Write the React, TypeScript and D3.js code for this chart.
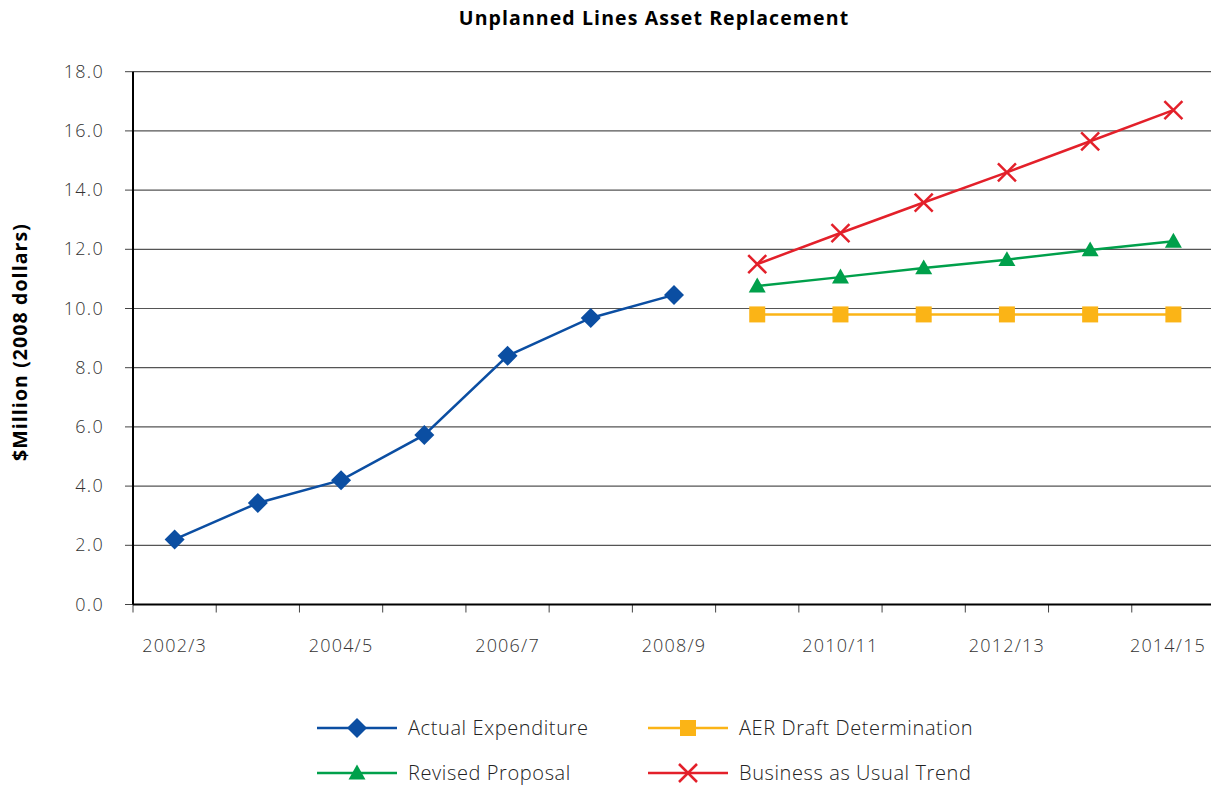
import React from "react";
import * as d3 from "d3";

const categories = ["2002/3","2003/4","2004/5","2005/6","2006/7","2007/8","2008/9","2009/10","2010/11","2011/12","2012/13","2013/14","2014/15"];
const actualExpenditure: (number|null)[] = [2.2, 3.43, 4.2, 5.73, 8.4, 9.68, 10.46, null, null, null, null, null, null];
const aerDraft: (number|null)[] = [null, null, null, null, null, null, null, 9.8, 9.8, 9.8, 9.8, 9.8, 9.8];
const revisedProposal: (number|null)[] = [null, null, null, null, null, null, null, 10.76, 11.06, 11.37, 11.65, 11.98, 12.27];
const businessAsUsual: (number|null)[] = [null, null, null, null, null, null, null, 11.5, 12.55, 13.58, 14.6, 15.65, 16.7];
const yTicks = [0, 2, 4, 6, 8, 10, 12, 14, 16, 18];
const xLabels = ["2002/3","2004/5","2006/7","2008/9","2010/11","2012/13","2014/15"];

const series = [
  { name: "Actual Expenditure", values: actualExpenditure, color: "#0B4EA2", marker: "diamond" },
  { name: "AER Draft Determination", values: aerDraft, color: "#FBB416", marker: "square" },
  { name: "Revised Proposal", values: revisedProposal, color: "#00A04B", marker: "triangle" },
  { name: "Business as Usual Trend", values: businessAsUsual, color: "#E3202A", marker: "cross" },
];

function Marker({ type, x, y, color }: { type: string; x: number; y: number; color: string }) {
  if (type === "diamond") {
    const s = 10;
    return <path d={`M${x},${y - s}L${x + s},${y}L${x},${y + s}L${x - s},${y}Z`} fill={color} />;
  }
  if (type === "square") {
    const s = 8;
    return <rect x={x - s} y={y - s} width={2 * s} height={2 * s} fill={color} />;
  }
  if (type === "triangle") {
    const s = 8.5;
    return <path d={`M${x},${y - s}L${x + s},${y + s * 0.75}L${x - s},${y + s * 0.75}Z`} fill={color} />;
  }
  const s = 9;
  return (
    <path d={`M${x - s},${y - s}L${x + s},${y + s}M${x - s},${y + s}L${x + s},${y - s}`} stroke={color} strokeWidth={2.5} fill="none" />
  );
}

export default function App() {
  const width = 1211, height = 785;
  const left = 133, right = 1215, top = 71.7, bottom = 604.5;
  const x = d3.scaleBand<string>().domain(categories).range([left, right]);
  const y = d3.scaleLinear().domain([0, 18]).range([bottom, top]);
  const cx = (c: string) => (x(c) as number) + x.bandwidth() / 2;
  const line = d3.line<{ c: string; v: number | null }>()
    .defined(d => d.v !== null)
    .x(d => cx(d.c))
    .y(d => y(d.v as number));
  const font = "'Open Sans', Lato, sans-serif";
  const tickEdges = categories.map(c => x(c) as number).concat([right]);

  const legend = [
    { s: series[0], lx: 317, ly: 728 },
    { s: series[1], lx: 648, ly: 728 },
    { s: series[2], lx: 317, ly: 773 },
    { s: series[3], lx: 648, ly: 773 },
  ];

  return (
    <svg width={width} height={height} style={{ position: "absolute", left: 0, top: 0 }} fontFamily={font}>
      <rect width={width} height={height} fill="#fff" />
      <text x={654} y={25} textAnchor="middle" fontSize={19.5} fontWeight={700} letterSpacing={1.1} fill="#000">Unplanned Lines Asset Replacement</text>
      <text transform={`translate(27,342) rotate(-90)`} textAnchor="middle" fontSize={19.5} fontWeight={700} letterSpacing={1.1} fill="#000">$Million (2008 dollars)</text>
      {yTicks.map(t => (
        <g key={t}>
          {t > 0 && <line x1={left} x2={width} y1={y(t)} y2={y(t)} stroke="#555" strokeWidth={1.2} />}
          <line x1={125} x2={left} y1={y(t)} y2={y(t)} stroke="#444" strokeWidth={1} />
          <text x={104} y={y(t) + 6} textAnchor="end" fontSize={18} fontWeight={300} letterSpacing={1.3} fill="#333">{t.toFixed(1)}</text>
        </g>
      ))}
      {tickEdges.map((t, i) => (
        <line key={i} x1={t} x2={t} y1={bottom} y2={bottom + 8} stroke="#444" strokeWidth={1} />
      ))}
      <line x1={left} x2={width} y1={bottom} y2={bottom} stroke="#000" strokeWidth={2} />
      <line x1={left} x2={left} y1={top} y2={bottom} stroke="#000" strokeWidth={2} />
      {xLabels.map((l, i) => (
        <text key={l} x={Math.min(cx(l), 1168)} y={652} textAnchor="middle" fontSize={18} fontWeight={300} letterSpacing={1.2} fill="#333">{l}</text>
      ))}
      {series.map(s => {
        const pts = categories.map((c, i) => ({ c, v: s.values[i] }));
        return (
          <g key={s.name}>
            <path d={line(pts) || ""} fill="none" stroke={s.color} strokeWidth={2.5} />
            {pts.filter(p => p.v !== null).map(p => (
              <Marker key={p.c} type={s.marker} x={cx(p.c)} y={y(p.v as number)} color={s.color} />
            ))}
          </g>
        );
      })}
      {legend.map(({ s, lx, ly }) => (
        <g key={s.name}>
          <line x1={lx} x2={lx + 80} y1={ly} y2={ly} stroke={s.color} strokeWidth={2.5} />
          <Marker type={s.marker} x={lx + 40} y={ly} color={s.color} />
          <text x={lx + 91} y={ly + 7} fontSize={20} fontWeight={300} letterSpacing={0.6} fill="#222">{s.name}</text>
        </g>
      ))}
    </svg>
  );
}
